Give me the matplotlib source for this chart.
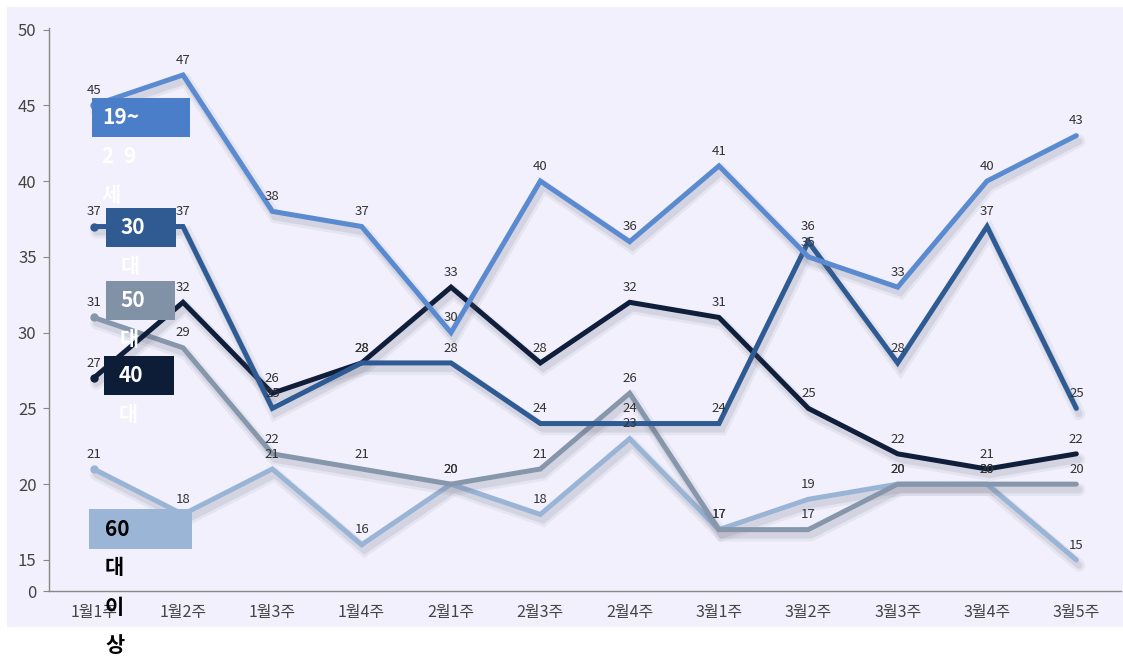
import numpy as np
import matplotlib
matplotlib.use("Agg")
import matplotlib.pyplot as plt
import matplotlib.patheffects as pe
from matplotlib.patches import Rectangle

plt.rcParams['font.family'] = ['Noto Sans CJK KR', 'DejaVu Sans']

weeks = ['1월1주', '1월2주', '1월3주', '1월4주', '2월1주', '2월3주',
         '2월4주', '3월1주', '3월2주', '3월3주', '3월4주', '3월5주']

age_20s = [45, 47, 38, 37, 30, 40, 36, 41, 35, 33, 40, 43]
age_30s = [37, 37, 25, 28, 28, 24, 24, 24, 36, 28, 37, 25]
age_40s = [27, 32, 26, 28, 33, 28, 32, 31, 25, 22, 21, 22]
age_50s = [31, 29, 22, 21, 20, 21, 26, 17, 17, 20, 20, 20]
age_60s = [21, 18, 21, 16, 20, 18, 23, 17, 19, 20, 20, 15]

ytick_vals = [15, 20, 25, 30, 35, 40, 45, 50]
y_floor = 12.95  # broken axis: "0" is drawn here

W, H = 1123, 661
fig = plt.figure(figsize=(W / 100, H / 100), dpi=100)
fig.patch.set_facecolor('white')

# lavender panel behind the chart
fig.patches.append(Rectangle((7 / W, 1 - 627 / H), (W - 7) / W, (627 - 7) / H,
                             transform=fig.transFigure, facecolor='#f1f0fc',
                             edgecolor='none', zorder=-5))

ax = fig.add_axes([49 / W, 1 - 591 / H, (1121 - 49) / W, (591 - 28) / H])
ax.set_facecolor('none')
ax.set_zorder(1)

x = np.arange(len(weeks))
series = [
    (age_60s, '#9ab4d6'),
    (age_50s, '#8697ab'),
    (age_40s, '#0f1e3a'),
    (age_30s, '#2f5b94'),
    (age_20s, '#5a8ad0'),
]
# soft drop shadow: a wide faint pass plus a narrower one
shadow = [pe.SimpleLineShadow(offset=(2, -4), shadow_color='#606070', alpha=0.08, linewidth=9),
          pe.SimpleLineShadow(offset=(2, -4), shadow_color='#606070', alpha=0.12, linewidth=5),
          pe.Normal()]
for vals, col in series:
    ax.plot(x, vals, color=col, lw=3.6, solid_joinstyle='miter',
            solid_capstyle='round', path_effects=shadow, zorder=3)
    ax.plot(x[0], vals[0], 'o', color=col, ms=5, zorder=3)
    for xi, v in zip(x, vals):
        ax.annotate(str(v), (xi, v), xytext=(0, 6), textcoords='offset points',
                    ha='center', va='bottom', fontsize=9.5, color='#333333', zorder=5)

ax.set_xlim(-0.5, 11.5)
ax.set_ylim(y_floor, 50.1)
ax.set_yticks([y_floor] + ytick_vals)
ax.set_yticklabels(['0'] + [str(v) for v in ytick_vals])
ax.set_xticks(x)
ax.set_xticklabels(weeks)
ax.tick_params(axis='y', length=4, width=0.8, color='#888888', labelsize=12,
               labelcolor='#444444', pad=5)
ax.tick_params(axis='x', length=0, labelsize=11.5, labelcolor='#444444', pad=9)
for s in ['top', 'right']:
    ax.spines[s].set_visible(False)
for s in ['left', 'bottom']:
    ax.spines[s].set_color('#888888')
    ax.spines[s].set_linewidth(1.0)

# legend boxes with wrapped labels, as in the original
legend_items = [
    ((92, 98, 98, 39), '#4b7ec9', ['19~', '2  9', '세'], 'white', 102),
    ((106, 208, 70, 39), '#2f5a92', ['30', '대'], 'white', 121),
    ((106, 281, 69, 39), '#8191a6', ['50', '대'], 'white', 120),
    ((104, 356, 70, 39), '#0d1d38', ['40', '대'], 'white', 119),
    ((89, 509, 103, 40), '#9bb5d6', ['60', '대', '이', '상'], 'black', 105),
]
for (bx, by, bw, bh), col, lines, tcol, tx in legend_items:
    fig.patches.append(Rectangle((bx / W, 1 - (by + bh) / H), bw / W, bh / H,
                                 transform=fig.transFigure, facecolor=col,
                                 edgecolor='none', zorder=6))
    for i, t in enumerate(lines):
        ty = by + bh / 2 + i * 39
        fig.text(tx / W, 1 - ty / H, t, ha='left', va='center', fontsize=15,
                 fontweight='bold', color=tcol, zorder=7)

fig.savefig('out.png', dpi=100)
